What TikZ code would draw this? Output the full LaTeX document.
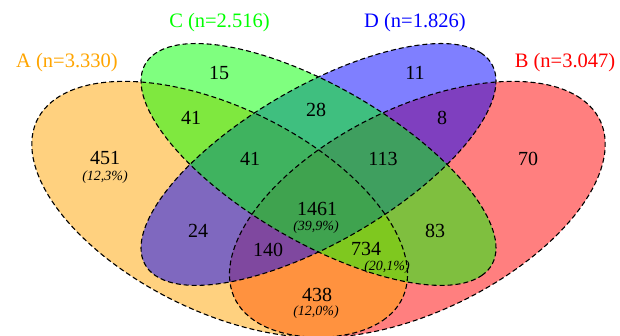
\documentclass[tikz,border=0pt]{standalone}
\usepackage{fontspec}
\setmainfont{Liberation Serif}
\definecolor{Rorange}{RGB}{255,165,0}
\definecolor{Rred}{RGB}{255,0,0}
\definecolor{Rgreen}{RGB}{0,255,0}
\definecolor{Rblue}{RGB}{0,0,255}
\begin{document}
\begin{tikzpicture}[x=1pt,y=1pt,
  num/.style={font=\fontsize{20}{20}\selectfont, inner sep=0pt},
  pct/.style={font=\fontsize{14}{14}\selectfont\itshape, inner sep=0pt},
  cat/.style={font=\fontsize{20.5}{20.5}\selectfont, inner sep=0pt},
  setfill/.style={fill=#1, fill opacity=0.5},
  border/.style={draw=black, dash pattern=on 5pt off 3pt, line width=1.1pt}]
\useasboundingbox (0,0) rectangle (620,335);
\fill[white] (0,0) rectangle (620,335);
\begin{scope}
\clip (0,0) rectangle (620,335);
\begin{scope}[shift={(-11,-85.4)}, xscale=659, yscale=449]
  % fills: order B, A, D, C
  \fill[setfill=Rred, rotate around={45:(0.65,0.47)}] (0.65,0.47) ellipse [x radius=0.35, y radius=0.2];
  \fill[setfill=Rorange, rotate around={-45:(0.35,0.47)}] (0.35,0.47) ellipse [x radius=0.35, y radius=0.2];
  \fill[setfill=Rblue, rotate around={45:(0.5,0.57)}] (0.5,0.57) ellipse [x radius=0.35, y radius=0.15];
  \fill[setfill=Rgreen, rotate around={-45:(0.5,0.57)}] (0.5,0.57) ellipse [x radius=0.35, y radius=0.15];
  % borders
  \draw[border, rotate around={45:(0.65,0.47)}] (0.65,0.47) ellipse [x radius=0.35, y radius=0.2];
  \draw[border, rotate around={-45:(0.35,0.47)}] (0.35,0.47) ellipse [x radius=0.35, y radius=0.2];
  \draw[border, rotate around={45:(0.5,0.57)}] (0.5,0.57) ellipse [x radius=0.35, y radius=0.15];
  \draw[border, rotate around={-45:(0.5,0.57)}] (0.5,0.57) ellipse [x radius=0.35, y radius=0.15];
\end{scope}
\end{scope}
% category labels
\node[cat, text=Rorange] (catA) at (67,272) {A (n=3.330)};
\node[cat, text=Rgreen] (catC) at (219.5,312) {C (n=2.516)};
\node[cat, text=Rblue] (catD) at (415,312) {D (n=1.826)};
\node[cat, text=Rred] (catB) at (565,272) {B (n=3.047)};
% counts
\node[num] (n15) at (219,262) {15};
\node[num] (n11) at (415,262) {11};
\node[num] (nAC) at (191,217) {41};
\node[num] (nCD) at (316,225) {28};
\node[num] (nBD) at (442,217) {8};
\node[num] (nA) at (105,177) {451};
\node[pct] (pA) at (105,158) {(12,3\%)};
\node[num] (nACD) at (250,176) {41};
\node[num] (nBCD) at (383,176) {113};
\node[num] (nB) at (528,176) {70};
\node[num] (nABCD) at (317,126) {1461};
\node[pct] (pABCD) at (316,108) {(39,9\%)};
\node[num] (nAD) at (198,104) {24};
\node[num] (nBC) at (435,104) {83};
\node[num] (nABD) at (268,85) {140};
\node[num] (nABC) at (366,86) {734};
\node[pct] (pABC) at (387,68) {(20,1\%)};
\node[num] (nAB) at (317,40) {438};
\node[pct] (pAB) at (316,23) {(12,0\%)};
\end{tikzpicture}
\end{document}
